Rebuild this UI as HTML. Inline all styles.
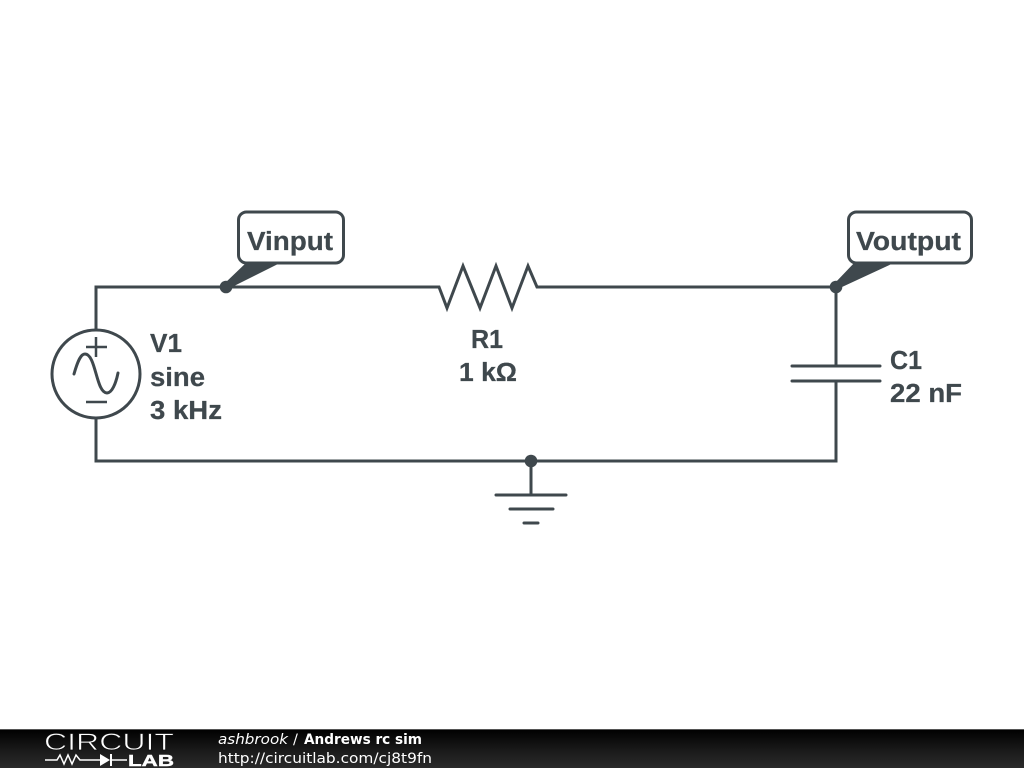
<!DOCTYPE html>
<html><head><meta charset="utf-8"><style>
html,body{margin:0;padding:0;background:#fff;width:1024px;height:768px;overflow:hidden}
svg{display:block}
.l{font-family:"Liberation Sans",sans-serif;font-weight:bold;font-size:25.5px;fill:#3f484d;stroke:#3f484d;stroke-width:0.250}
.f{font-family:"DejaVu Sans",sans-serif;font-size:14.5px;fill:#fff}
</style></head><body>
<svg width="1024" height="768" viewBox="0 0 1024 768" xmlns="http://www.w3.org/2000/svg">
<defs><linearGradient id="g" x1="0" y1="0" x2="0" y2="1"><stop offset="0" stop-color="#000"/><stop offset="0.6" stop-color="#1c1c1c"/><stop offset="1" stop-color="#2a2a2a"/></linearGradient></defs>
<rect width="1024" height="768" fill="#fff"/>
<g fill="none" stroke="#3f484d" stroke-width="3">
<path d="M96 330V287H439L447 308L463 266L480 308L496 266L512 308L528 266L537 287H836V366"/>
<path d="M836 381V461H96V418"/>
<path d="M531 461V495"/>
<circle cx="96" cy="374" r="44"/>
<path d="M86 347H107M96 337V357M86 402H107" stroke-width="2.500"/>
<path d="M74 374C78 360 81 354 85 354C96 354 96 393 107 393C112 393 116 383 118 373" stroke-linecap="round"/>
<path d="M792 366H880M792 381H880" stroke-linecap="round"/>
<path d="M496 495H566M510 509H553M524 523H538" stroke-linecap="round"/>
</g>
<g fill="#3f484d">
<circle cx="226" cy="287" r="6.300"/><circle cx="836" cy="287" r="6.300"/><circle cx="531" cy="461" r="6.300"/>
<path d="M224 284L248 261H284L232 287Z"/><path d="M834 284L856 261H898L842 287Z"/>
</g>
<rect x="238.500" y="212" width="105" height="51" rx="8" fill="#fff" stroke="#3f484d" stroke-width="3"/>
<rect x="848.500" y="212" width="123" height="51" rx="8" fill="#fff" stroke="#3f484d" stroke-width="3"/>
<text class="l" x="247" y="250" textLength="86" lengthAdjust="spacingAndGlyphs">Vinput</text>
<text class="l" x="856" y="250" textLength="105" lengthAdjust="spacingAndGlyphs">Voutput</text>
<text class="l" x="150" y="352" textLength="32" lengthAdjust="spacingAndGlyphs">V1</text>
<text class="l" x="150" y="386" textLength="55" lengthAdjust="spacingAndGlyphs">sine</text>
<text class="l" x="150" y="419" textLength="72" lengthAdjust="spacingAndGlyphs">3 kHz</text>
<text class="l" x="471" y="348" textLength="32" lengthAdjust="spacingAndGlyphs">R1</text>
<text class="l" x="459" y="381" textLength="58" lengthAdjust="spacingAndGlyphs">1 kΩ</text>
<text class="l" x="890" y="369" textLength="32" lengthAdjust="spacingAndGlyphs">C1</text>
<text class="l" x="890" y="402" textLength="72" lengthAdjust="spacingAndGlyphs">22 nF</text>
<rect y="729" width="1024" height="39" fill="url(#g)"/>
<rect y="729" width="1024" height="1" fill="#555"/>
<text x="44" y="750" font-family="'Liberation Sans',sans-serif" font-size="24.500" fill="#fff" stroke="#111" stroke-width="0.700" textLength="130" lengthAdjust="spacingAndGlyphs">CIRCUIT</text>
<path d="M45 760H57L60 755L64 764L68 755L72 764L76 755L80 760H100M112 760H127" fill="none" stroke="#fff" stroke-width="1.500"/>
<path d="M100 754L110 760L100 766ZM110 754H112V766H110Z" fill="#fff"/>
<text x="128" y="766" font-family="'Liberation Sans',sans-serif" font-size="16" font-weight="bold" fill="#fff" stroke="#fff" stroke-width="0.400" textLength="46" lengthAdjust="spacingAndGlyphs">LAB</text>
<text class="f" x="218" y="744" font-style="italic" textLength="70" lengthAdjust="spacingAndGlyphs">ashbrook</text>
<text class="f" x="293" y="744">/</text>
<text class="f" x="304" y="744" font-weight="bold" textLength="118" lengthAdjust="spacingAndGlyphs">Andrews rc sim</text>
<text class="f" x="218" y="763" textLength="214" lengthAdjust="spacingAndGlyphs">http://circuitlab.com/cj8t9fn</text>
</svg>
</body></html>
